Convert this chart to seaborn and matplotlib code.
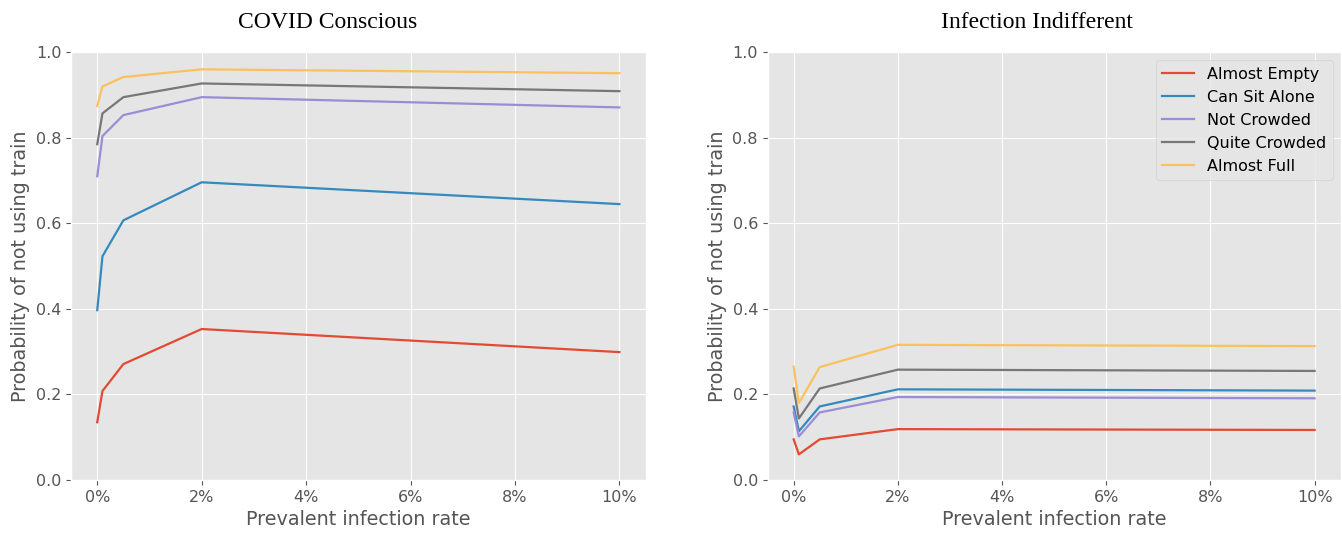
import pandas as pd
import matplotlib
matplotlib.use("Agg")
import matplotlib.pyplot as plt
import seaborn as sns
from matplotlib.ticker import PercentFormatter

# Prevalent infection rate (fraction)
rates = [0.0, 0.001, 0.005, 0.02, 0.10]
levels = ["Almost Empty", "Can Sit Alone", "Not Crowded", "Quite Crowded", "Almost Full"]

# COVID Conscious
conscious_empty = [0.135, 0.208, 0.271, 0.353, 0.299]
conscious_alone = [0.397, 0.523, 0.607, 0.696, 0.645]
conscious_not_crowded = [0.710, 0.804, 0.853, 0.895, 0.871]
conscious_quite_crowded = [0.785, 0.857, 0.895, 0.927, 0.909]
conscious_full = [0.874, 0.920, 0.942, 0.960, 0.951]

# Infection Indifferent
indiff_empty = [0.095, 0.060, 0.095, 0.119, 0.117]
indiff_alone = [0.172, 0.114, 0.172, 0.212, 0.209]
indiff_not_crowded = [0.158, 0.102, 0.158, 0.194, 0.191]
indiff_quite_crowded = [0.214, 0.144, 0.214, 0.258, 0.255]
indiff_full = [0.265, 0.180, 0.264, 0.316, 0.313]

colors = ["#E24A33", "#348ABD", "#988ED5", "#777777", "#FBC15E"]


def to_frame(series):
    rows = []
    for level, values in zip(levels, series):
        for r, v in zip(rates, values):
            rows.append({"rate": r, "prob": v, "Level": level})
    return pd.DataFrame(rows)


conscious = to_frame([conscious_empty, conscious_alone, conscious_not_crowded,
                      conscious_quite_crowded, conscious_full])
indifferent = to_frame([indiff_empty, indiff_alone, indiff_not_crowded,
                        indiff_quite_crowded, indiff_full])

plt.style.use("ggplot")
fig = plt.figure(figsize=(13.42, 5.33), dpi=100)
ax1 = fig.add_axes([0.053, 0.0994, 0.428, 0.8026])
ax2 = fig.add_axes([0.572, 0.0994, 0.427, 0.8026])

panels = [(ax1, conscious, "COVID Conscious", 0.2444, False),
          (ax2, indifferent, "Infection Indifferent", 0.7727, True)]
for ax, df, title, tx, show_legend in panels:
    sns.lineplot(data=df, x="rate", y="prob", hue="Level", palette=colors,
                 hue_order=levels, ax=ax, linewidth=1.6, legend=show_legend)
    ax.set_ylim(0, 1.0)
    ax.set_xticks([0, 0.02, 0.04, 0.06, 0.08, 0.10])
    ax.xaxis.set_major_formatter(PercentFormatter(xmax=1, decimals=0))
    # titles sit a bit left of the axes centre in the original
    fig.text(tx, 0.9587, title, family="Liberation Serif", fontsize=17,
             color="black", ha="center", va="center")
    ax.set_xlabel("Prevalent infection rate", fontsize=13.8)
    ax.set_ylabel("Probability of not using train", fontsize=13.8)
    ax.tick_params(labelsize=11.5)

leg = ax2.legend(loc="upper right", fontsize=11.5)
leg.set_title(None)

fig.savefig("out.png", dpi=100)
